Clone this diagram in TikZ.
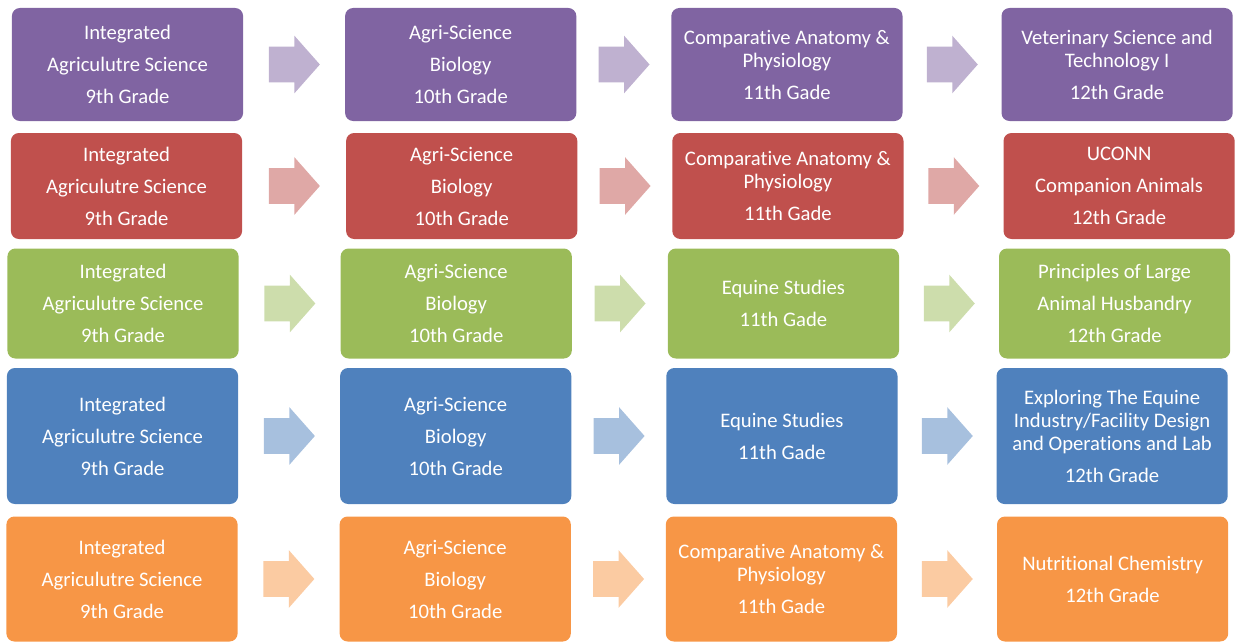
\documentclass[tikz,border=0pt]{standalone}
\usepackage{fontspec}
\setmainfont{Carlito}[Ligatures=NoCommon]
\usetikzlibrary{positioning,calc,shapes.arrows}
\definecolor{vetpurple}{RGB}{128,100,162}
\definecolor{uconnred}{RGB}{192,80,77}
\definecolor{largegreen}{RGB}{155,187,89}
\definecolor{equineblue}{RGB}{79,129,189}
\definecolor{nutriorange}{RGB}{247,150,70}
\newcommand{\yrgap}{\\[6.75pt]}

\begin{document}
\begin{tikzpicture}[
    x=0.75pt, y=-0.75pt,
    box/.style={fill=#1, rounded corners=6pt, minimum width=173.4pt, align=center, text=white,
                inner sep=2pt, outer sep=0pt, font=\fontsize{15.5}{17.25}\selectfont},
    nextarrow/.style={single arrow, fill=#1, draw=none, minimum height=38.25pt, inner xsep=0pt,
                inner ysep=13.125pt, single arrow head extend=8.25pt, single arrow tip angle=97,
                single arrow head indent=0pt, anchor=tail}
]
\clip (0,0) rectangle (1235,642);

% veterinary track
\node[box=vetpurple, minimum height=84.75pt] (vet9) at (127.5,64.5) {Integrated\yrgap Agriculutre Science\yrgap 9th Grade};
\node[box=vetpurple, minimum height=84.75pt, right=76.5pt of vet9] (vet10) {Agri-Science\yrgap Biology\yrgap 10th Grade};
\node[box=vetpurple, minimum height=84.75pt, right=71.25pt of vet10] (vet11) {Comparative Anatomy \&\\Physiology\yrgap 11th Gade};
\node[box=vetpurple, minimum height=84.75pt, right=74.25pt of vet11] (vet12) {Veterinary Science and\\Technology I\yrgap 12th Grade};

% uconn track
\node[box=uconnred, minimum height=79.5pt] (uconn9) at (126.5,186) {Integrated\yrgap Agriculutre Science\yrgap 9th Grade};
\node[box=uconnred, minimum height=79.5pt, right=78pt of uconn9] (uconn10) {Agri-Science\yrgap Biology\yrgap 10th Grade};
\node[box=uconnred, minimum height=79.5pt, right=71.25pt of uconn10] (uconn11) {Comparative Anatomy \&\\Physiology\yrgap 11th Gade};
\node[box=uconnred, minimum height=79.5pt, right=75pt of uconn11] (uconn12) {UCONN\yrgap Companion Animals\yrgap 12th Grade};

% large animal track
\node[box=largegreen, minimum height=82.5pt] (large9) at (123,303.5) {Integrated\yrgap Agriculutre Science\yrgap 9th Grade};
\node[box=largegreen, minimum height=82.5pt, right=76.5pt of large9] (large10) {Agri-Science\yrgap Biology\yrgap 10th Grade};
\node[box=largegreen, minimum height=82.5pt, right=72pt of large10] (large11) {Equine Studies\yrgap 11th Gade};
\node[box=largegreen, minimum height=82.5pt, right=75pt of large11] (large12) {Principles of Large\yrgap Animal Husbandry\yrgap 12th Grade};

% equine track
\node[box=equineblue, minimum height=102pt] (equine9) at (122.5,436) {Integrated\yrgap Agriculutre Science\yrgap 9th Grade};
\node[box=equineblue, minimum height=102pt, right=76.5pt of equine9] (equine10) {Agri-Science\yrgap Biology\yrgap 10th Grade};
\node[box=equineblue, minimum height=102pt, right=71.25pt of equine10] (equine11) {Equine Studies\yrgap 11th Gade};
\node[box=equineblue, minimum height=102pt, right=74.25pt of equine11] (equine12) {Exploring The Equine\\Industry/Facility Design\\and Operations and Lab\yrgap 12th Grade};

% nutrition track
\node[box=nutriorange, minimum height=93.75pt] (nutri9) at (122,579) {Integrated\yrgap Agriculutre Science\yrgap 9th Grade};
\node[box=nutriorange, minimum height=93.75pt, right=76.5pt of nutri9] (nutri10) {Agri-Science\yrgap Biology\yrgap 10th Grade};
\node[box=nutriorange, minimum height=93.75pt, right=71.25pt of nutri10] (nutri11) {Comparative Anatomy \&\\Physiology\yrgap 11th Gade};
\node[box=nutriorange, minimum height=93.75pt, right=75pt of nutri11] (nutri12) {Nutritional Chemistry\yrgap 12th Grade};

% arrows between the years
\foreach \trk/\col in {vet/vetpurple, uconn/uconnred, large/largegreen, equine/equineblue, nutri/nutriorange}
  \foreach \a/\b in {9/10, 10/11, 11/12}
    \node[nextarrow=\col!50!white] (\trk\a-\b) at ($(\trk\a.east)!0.5!(\trk\b.west)+(-25.5,0)$) {};
\end{tikzpicture}
\end{document}
